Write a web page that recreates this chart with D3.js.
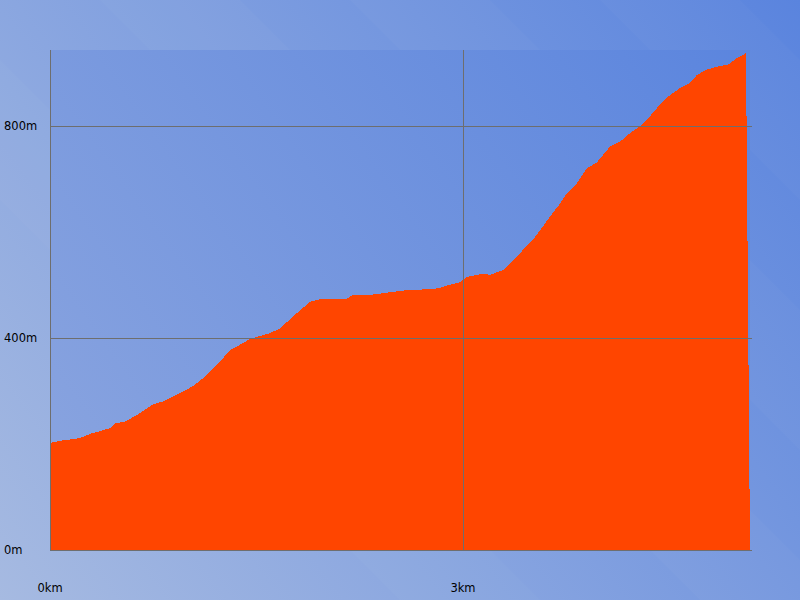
<!DOCTYPE html>
<html><head><meta charset="utf-8">
<script src="https://cdn.jsdelivr.net/npm/d3@7"></script>
<style>html,body{margin:0;padding:0;overflow:hidden;}svg{display:block;}</style>
</head><body>
<script>
// distance along route (km)
const distanceKm = [0.000,0.073,0.218,0.291,0.363,0.436,0.472,0.545,0.654,0.748,0.821,0.944,1.039,1.140,1.213,1.308,1.380,1.453,1.598,1.671,1.794,1.889,1.961,2.012,2.157,2.201,2.324,2.470,2.593,2.760,2.833,2.884,2.978,3.029,3.145,3.196,3.291,3.363,3.436,3.508,3.581,3.632,3.705,3.755,3.828,3.901,3.973,4.068,4.140,4.213,4.286,4.358,4.431,4.504,4.576,4.649,4.700,4.772,4.867,4.925,4.990,5.027,5.056,5.085];
// elevation (m)
const elevationM = [202,206,211,219,224,230,239,242,258,275,280,296,309,330,349,377,387,398,409,418,447,468,473,473,474,481,481,486,490,492,494,499,505,515,521,519,528,545,566,585,610,629,653,673,692,720,731,761,770,786,799,818,840,858,871,881,896,906,913,915,928,932,938,0];
const xTicks = [0,3];
const xTickLabels = ["0km","3km"];
const yTicks = [0,400,800];
const yTickLabels = ["0m","400m","800m"];
const xMax = 5.085, yMax = 943;

const W=800,H=600, L=50,R=750,T=50,B=550;
const svg = d3.select("body").append("svg").attr("width",W).attr("height",H);
const defs = svg.append("defs");
const g1 = defs.append("linearGradient").attr("id","bg").attr("gradientUnits","userSpaceOnUse")
  .attr("x1",0).attr("y1",600).attr("x2",800).attr("y2",0);
g1.append("stop").attr("offset",0).attr("stop-color","#a6bae1");
g1.append("stop").attr("offset",1).attr("stop-color","#5a84de");
const g2 = defs.append("linearGradient").attr("id","pbg").attr("gradientUnits","userSpaceOnUse")
  .attr("x1",50).attr("y1",550).attr("x2",750).attr("y2",50);
g2.append("stop").attr("offset",0).attr("stop-color","#8ba5df");
g2.append("stop").attr("offset",1).attr("stop-color","#5b85de");

svg.append("rect").attr("width",W).attr("height",H).attr("fill","url(#bg)");
// subtle diagonal bands
const bands = [[-200,0],[100,0],[350,0],[600,0],[850,0]];
bands.forEach(([x0],i)=>{
  svg.append("path").attr("d",`M${x0},0 L${x0+140},0 L${x0+740},600 L${x0+600},600 Z`)
    .attr("fill","#ffffff").attr("opacity",0.025);
});

const x = d3.scaleLinear().domain([0,xMax]).range([L,R]);
const y = d3.scaleLinear().domain([0,yMax]).range([B,T]);

svg.append("rect").attr("x",L).attr("y",T).attr("width",R-L).attr("height",B-T).attr("fill","url(#pbg)");

const data = distanceKm.map((d,i)=>({d, e:elevationM[i]}));
const area = d3.area().x(p=>x(p.d)).y0(y(0)).y1(p=>y(p.e));
svg.append("path").datum(data).attr("d",area).attr("fill","#ff4500").attr("shape-rendering","crispEdges");

const grid = svg.append("g").attr("stroke","#6e6e6e").attr("stroke-width",1).attr("shape-rendering","crispEdges");
yTicks.forEach(v=>{
  grid.append("line").attr("x1",L).attr("x2",R+2).attr("y1",Math.round(y(v))+0.5).attr("y2",Math.round(y(v))+0.5);
});
xTicks.forEach(v=>{
  grid.append("line").attr("x1",Math.round(x(v))+0.5).attr("x2",Math.round(x(v))+0.5).attr("y1",T).attr("y2",B);
});

const lab = svg.append("g").attr("font-family","DejaVu Sans, Verdana, sans-serif").attr("font-size","11.5px").attr("fill","#000");
yTicks.forEach((v,i)=>{
  lab.append("text").attr("x",4).attr("y",y(v)).attr("dy","0.35em").text(yTickLabels[i]);
});
xTicks.forEach((v,i)=>{
  lab.append("text").attr("x",x(v)).attr("y",588).attr("dy","0.35em").attr("text-anchor","middle").text(xTickLabels[i]);
});
</script>
</body></html>
